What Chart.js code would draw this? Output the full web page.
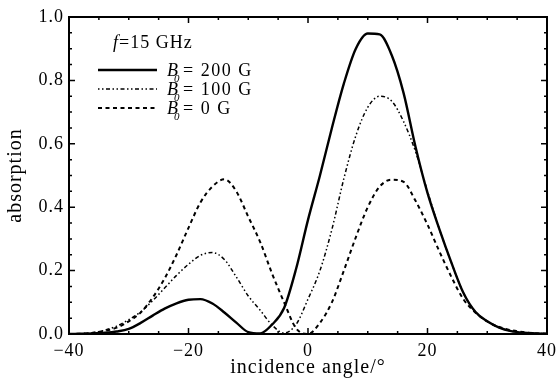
<!DOCTYPE html>
<html>
<head>
<meta charset="utf-8">
<script src="https://cdn.jsdelivr.net/npm/chart.js@4/dist/chart.umd.min.js"></script>
<style>
  html, body { margin: 0; padding: 0; background: #fff; }
  #wrap { width: 556px; height: 388px; position: relative; }
</style>
</head>
<body>
<div id="wrap"><canvas id="absChart"></canvas></div>
<script>
// Angulos de incidencia (grados)
const angles = [-40, -38, -36, -34, -32, -30, -28, -26, -24, -22, -20, -18, -16, -14, -12, -10, -8, -6, -4, -2,
                0, 2, 4, 6, 8, 10, 12, 14, 16, 18, 20, 22, 24, 26, 28, 30, 32, 34, 36, 38, 40];

// Absorcion para B0 = 200 G
const abs200 = [0, 0.001, 0.002, 0.004, 0.008, 0.016, 0.035, 0.058, 0.08, 0.097, 0.108, 0.11, 0.096, 0.068, 0.036, 0.006, 0.002, 0.03, 0.082, 0.205,
                0.36, 0.5, 0.65, 0.79, 0.9, 0.948, 0.945, 0.88, 0.76, 0.59, 0.445, 0.33, 0.225, 0.13, 0.07, 0.04, 0.02, 0.009, 0.004, 0.002, 0.001];

// Absorcion para B0 = 100 G
const abs100 = [0, 0.001, 0.004, 0.012, 0.025, 0.045, 0.07, 0.105, 0.145, 0.185, 0.22, 0.248, 0.257, 0.235, 0.18, 0.12, 0.075, 0.028, 0.003, 0.03,
                0.11, 0.2, 0.33, 0.49, 0.625, 0.715, 0.75, 0.735, 0.67, 0.575, 0.45, 0.33, 0.225, 0.13, 0.07, 0.04, 0.02, 0.009, 0.004, 0.002, 0.001];

// Absorcion para B0 = 0 G
const abs0 = [0, 0.001, 0.004, 0.01, 0.02, 0.04, 0.068, 0.115, 0.175, 0.25, 0.335, 0.415, 0.465, 0.488, 0.45, 0.37, 0.29, 0.19, 0.1, 0.018,
              0, 0.035, 0.1, 0.2, 0.305, 0.4, 0.465, 0.487, 0.48, 0.42, 0.345, 0.26, 0.18, 0.11, 0.068, 0.04, 0.022, 0.012, 0.006, 0.002, 0.001];

const xTicks = [-40, -20, 0, 20, 40];
const yTicks = [0, 0.2, 0.4, 0.6, 0.8, 1.0];

const seriesNames = ['200 G', '100 G', '0 G'];
const serif = "'Liberation Serif', 'Times New Roman', serif";

function toPoints(ys) {
    return angles.map((a, i) => ({ x: a, y: ys[i] }));
}

const lineStyles = [
    { width: 2.4, dash: [] },
    { width: 1.5, dash: [1.5, 2.5, 1.5, 2.5, 4, 2.5] },
    { width: 2, dash: [4, 3.5] }
];

// El texto escaneado es algo mas ancho que Times: se abre un poco el espaciado
const spacingPlugin = {
    id: 'spacing',
    beforeDraw(chart) {
        chart.ctx.letterSpacing = '1px';
    }
};

// Marco, marcas hacia dentro y leyenda dentro del grafico
const framePlugin = {
    id: 'frame',
    afterDraw(chart) {
        const ctx = chart.ctx;
        const { left, right, top, bottom } = chart.chartArea;
        const xs = chart.scales.x, ys = chart.scales.y;
        ctx.save();
        ctx.strokeStyle = '#000';
        ctx.lineWidth = 2;
        ctx.strokeRect(left, top, right - left, bottom - top);

        ctx.lineWidth = 1.5;
        ctx.beginPath();
        for (let v = -40; v <= 40; v += 5) {
            const px = xs.getPixelForValue(v);
            const len = v % 20 === 0 ? 6 : 3;
            ctx.moveTo(px, bottom); ctx.lineTo(px, bottom - len);
            ctx.moveTo(px, top); ctx.lineTo(px, top + len);
        }
        for (let k = 0; k <= 20; k++) {
            const py = ys.getPixelForValue(k * 0.05);
            const len = k % 4 === 0 ? 6 : 3;
            ctx.moveTo(left, py); ctx.lineTo(left + len, py);
            ctx.moveTo(right, py); ctx.lineTo(right - len, py);
        }
        ctx.stroke();

        // texto de frecuencia
        ctx.fillStyle = '#000';
        ctx.textBaseline = 'alphabetic';
        ctx.letterSpacing = '1px';
        ctx.font = 'italic 18px ' + serif;
        ctx.fillText('f', 113, 48);
        const fw = ctx.measureText('f').width;
        ctx.font = '18px ' + serif;
        ctx.fillText('=15 GHz', 113 + fw, 48);

        // leyenda
        const rowY = [70, 89, 108];
        chart.data.datasets.forEach((ds, i) => {
            const y = rowY[i];
            ctx.beginPath();
            ctx.lineWidth = lineStyles[i].width;
            ctx.setLineDash(lineStyles[i].dash);
            ctx.moveTo(98, y); ctx.lineTo(157, y);
            ctx.stroke();
            ctx.setLineDash([]);
            ctx.letterSpacing = '0px';
            ctx.font = 'italic 18px ' + serif;
            ctx.fillText('B', 167, y + 6);
            ctx.font = 'italic 11px ' + serif;
            ctx.fillText('0', 174, y + 12);
            ctx.letterSpacing = '1.5px';
            ctx.font = '18px ' + serif;
            ctx.fillText('= ' + seriesNames[i], 183, y + 6);
        });
        ctx.restore();
    }
};

new Chart(document.getElementById('absChart'), {
    type: 'line',
    data: {
        datasets: [
            { label: 'B0 = 200 G', data: toPoints(abs200) },
            { label: 'B0 = 100 G', data: toPoints(abs100) },
            { label: 'B0 = 0 G', data: toPoints(abs0) }
        ].map((ds, i) => Object.assign(ds, {
            borderColor: '#000',
            borderWidth: lineStyles[i].width,
            borderDash: lineStyles[i].dash,
            pointRadius: 0,
            fill: false,
            cubicInterpolationMode: 'monotone'
        }))
    },
    options: {
        responsive: true,
        maintainAspectRatio: false,
        animation: false,
        layout: { autoPadding: false, padding: { top: 17, right: 9, left: 0, bottom: 0 } },
        plugins: {
            legend: { display: false },
            tooltip: { enabled: false }
        },
        scales: {
            x: {
                type: 'linear',
                min: -40,
                max: 40,
                afterFit: s => { s.height = 54; s.paddingLeft = 0; s.paddingRight = 0; },
                afterBuildTicks: s => { s.ticks = xTicks.map(v => ({ value: v })); },
                grid: { display: false, drawTicks: false },
                border: { display: false },
                ticks: {
                    padding: 6,
                    maxRotation: 0,
                    color: '#000',
                    font: { family: serif, size: 18 },
                    callback: v => (v < 0 ? '\u2212' + Math.abs(v) : String(v))
                },
                title: {
                    display: true,
                    text: 'incidence angle/\u00b0',
                    color: '#000',
                    font: { family: serif, size: 20 },
                    padding: { top: 0, bottom: 8 }
                }
            },
            y: {
                type: 'linear',
                min: 0,
                max: 1,
                afterFit: s => { s.width = 69; },
                afterBuildTicks: s => { s.ticks = yTicks.map(v => ({ value: v })); },
                grid: { display: false, drawTicks: false },
                border: { display: false },
                ticks: {
                    padding: 5,
                    color: '#000',
                    font: { family: serif, size: 18 },
                    callback: v => Number(v).toFixed(1)
                },
                title: {
                    display: true,
                    text: 'absorption',
                    color: '#000',
                    font: { family: serif, size: 20 },
                    padding: { top: 4, bottom: 0 }
                }
            }
        }
    },
    plugins: [spacingPlugin, framePlugin]
});
</script>
</body>
</html>
